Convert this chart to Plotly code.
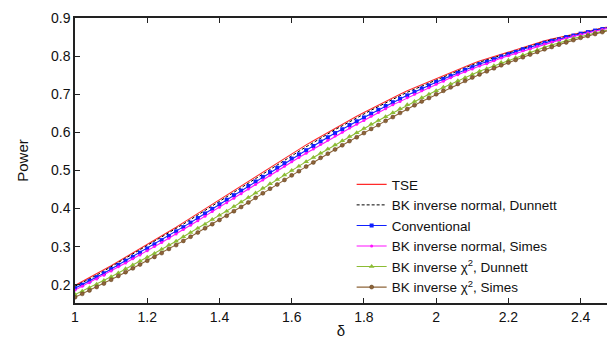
import plotly.graph_objects as go

delta = [round(1.0 + 0.02 * i, 2) for i in range(76)]

tse = [.198,.208,.218,.228,.239,.250,.261,.272,.283,.294,.305,.316,.328,.339,.351,.363,.375,.387,.399,.412,
       .424,.436,.448,.461,.473,.485,.497,.509,.521,.533,.545,.556,.567,.578,.589,.600,.611,.621,.632,.642,
       .652,.662,.672,.681,.691,.700,.709,.717,.726,.734,.742,.750,.758,.765,.773,.780,.787,.793,.800,.806,
       .812,.818,.824,.829,.835,.840,.845,.849,.854,.858,.862,.866,.870,.874,.878,.882]
bk_norm_dunnett = [.196,.205,.215,.225,.236,.247,.258,.269,.280,.291,.302,.313,.324,.335,.347,.359,.371,.383,.395,.408,
       .420,.432,.444,.456,.468,.480,.492,.504,.516,.528,.540,.551,.562,.573,.585,.596,.607,.617,.628,.638,
       .648,.658,.668,.677,.687,.696,.705,.713,.722,.730,.739,.747,.755,.762,.770,.777,.784,.790,.797,.804,
       .810,.816,.822,.827,.833,.838,.843,.847,.853,.857,.861,.865,.869,.873,.877,.881]
conventional = [.191,.200,.210,.220,.230,.241,.252,.263,.273,.284,.295,.306,.317,.328,.340,.351,.363,.375,.387,.399,
       .411,.423,.435,.447,.459,.471,.483,.495,.507,.519,.531,.542,.553,.564,.576,.587,.598,.608,.619,.629,
       .639,.649,.659,.669,.679,.688,.697,.706,.715,.723,.732,.740,.748,.756,.764,.771,.779,.785,.792,.799,
       .805,.811,.818,.823,.829,.835,.840,.844,.850,.854,.859,.863,.867,.871,.876,.880]
bk_norm_simes = [.186,.196,.205,.215,.225,.236,.247,.257,.268,.278,.289,.300,.311,.322,.333,.345,.356,.368,.380,.392,
       .403,.415,.427,.439,.451,.463,.475,.487,.499,.511,.523,.534,.545,.556,.568,.579,.590,.600,.611,.621,
       .631,.642,.652,.662,.672,.681,.691,.700,.709,.717,.726,.734,.743,.751,.759,.766,.774,.780,.788,.795,
       .801,.807,.814,.819,.826,.832,.837,.842,.847,.852,.857,.861,.865,.870,.874,.879]
bk_chi_dunnett = [.174,.183,.192,.201,.211,.221,.231,.242,.252,.262,.272,.282,.293,.304,.314,.326,.337,.348,.359,.371,
       .382,.393,.405,.417,.429,.441,.453,.465,.476,.488,.500,.511,.523,.534,.545,.556,.567,.578,.589,.599,
       .610,.621,.631,.641,.651,.662,.672,.681,.691,.700,.709,.718,.727,.735,.743,.752,.760,.767,.775,.783,
       .789,.796,.803,.810,.816,.823,.829,.834,.840,.846,.851,.856,.861,.865,.870,.875]
bk_chi_simes = [.167,.176,.185,.194,.203,.213,.223,.233,.243,.253,.263,.273,.283,.294,.304,.315,.326,.337,.348,.359,
       .370,.381,.393,.404,.416,.428,.440,.452,.463,.475,.487,.498,.510,.521,.533,.544,.555,.566,.577,.587,
       .598,.609,.619,.630,.640,.651,.661,.671,.681,.690,.700,.709,.718,.727,.735,.744,.752,.760,.768,.776,
       .783,.790,.797,.804,.811,.818,.824,.830,.836,.842,.848,.853,.858,.863,.868,.873]

x_ticks = [1, 1.2, 1.4, 1.6, 1.8, 2, 2.2, 2.4]
x_labels = ["1", "1.2", "1.4", "1.6", "1.8", "2", "2.2", "2.4"]
y_ticks = [0.2, 0.3, 0.4, 0.5, 0.6, 0.7, 0.8, 0.9]
y_labels = ["0.2", "0.3", "0.4", "0.5", "0.6", "0.7", "0.8", "0.9"]

FONT = "Liberation Sans, Arial, Helvetica, sans-serif"

fig = go.Figure()
fig.add_trace(go.Scatter(x=delta, y=tse, mode="lines", name="TSE",
                         line=dict(color="#ff2a2a", width=1.1)))
fig.add_trace(go.Scatter(x=delta, y=bk_norm_dunnett, mode="lines", name="BK inverse normal, Dunnett",
                         line=dict(color="#000000", width=1, dash="3px,2px")))
fig.add_trace(go.Scatter(x=delta, y=conventional, mode="lines+markers", name="Conventional",
                         line=dict(color="#1020ff", width=1.1),
                         marker=dict(symbol="square", size=4, color="#1020ff")))
fig.add_trace(go.Scatter(x=delta, y=bk_norm_simes, mode="lines+markers", name="BK inverse normal, Simes",
                         line=dict(color="#ff10ff", width=1.1),
                         marker=dict(symbol="circle", size=3, color="#ff10ff")))
fig.add_trace(go.Scatter(x=delta, y=bk_chi_dunnett, mode="lines+markers", name="BK inverse χ<sup>2</sup>, Dunnett",
                         line=dict(color="#8cbc34", width=1.1),
                         marker=dict(symbol="triangle-up", size=5, color="#8cbc34")))
fig.add_trace(go.Scatter(x=delta, y=bk_chi_simes, mode="lines+markers", name="BK inverse χ<sup>2</sup>, Simes",
                         line=dict(color="#8e6438", width=1.1),
                         marker=dict(symbol="circle", size=4, color="#8e6438",
                                     line=dict(color="#5a3a1a", width=0.5))))

fig.update_layout(
    width=607, height=339,
    margin=dict(l=75, r=0, t=18, b=36),
    paper_bgcolor="white", plot_bgcolor="white",
    font=dict(family=FONT, size=14, color="#111111"),
    showlegend=True,
    legend=dict(x=0.52, y=0.47, xanchor="left", yanchor="top",
                bgcolor="rgba(0,0,0,0)", borderwidth=0,
                font=dict(family=FONT, size=13.5, color="#111111"),
                itemwidth=30, tracegroupgap=0),
    xaxis=dict(range=[1, 2.473], tickvals=x_ticks, ticktext=x_labels,
               showgrid=False, zeroline=False, showline=True, linecolor="#222222", linewidth=1.5,
               ticks="inside", ticklen=5, tickcolor="#222222", mirror="ticks",
               title=dict(text="δ", font=dict(family=FONT, size=15), standoff=4)),
    yaxis=dict(range=[0.152, 0.9], tickvals=y_ticks, ticktext=y_labels,
               showgrid=False, zeroline=False, showline=True, linecolor="#222222", linewidth=1.5,
               ticks="inside", ticklen=5, tickcolor="#222222",
               title=dict(text="Power", font=dict(family=FONT, size=15), standoff=19)),
)

fig.write_html("out.html")
